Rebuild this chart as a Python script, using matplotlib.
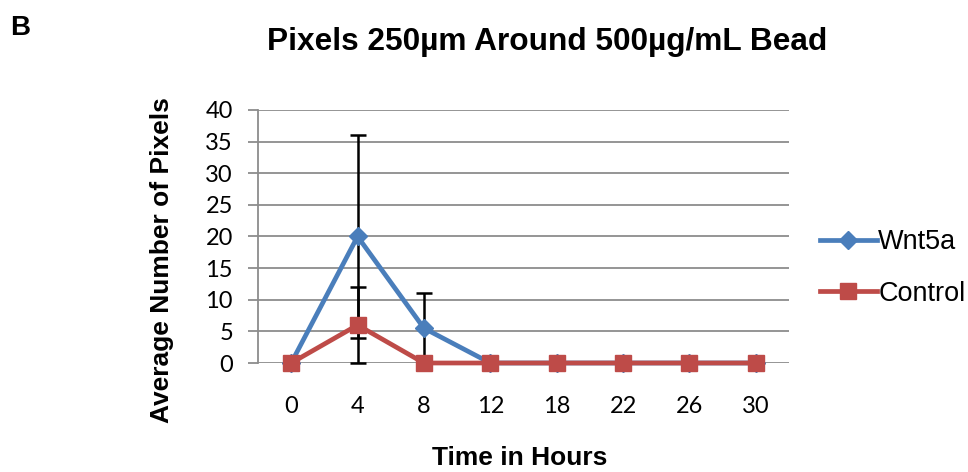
import numpy as np
import matplotlib.pyplot as plt

# ------------------- Data -------------------
hours = ['0', '4', '8', '12', '18', '22', '26', '30']
wnt5a = [0, 20, 5.5, 0, 0, 0, 0, 0]
wnt5a_err = [0, 16, 5.5, 0, 0, 0, 0, 0]
control = [0, 6, 0, 0, 0, 0, 0, 0]
control_err = [0, 6, 0, 0, 0, 0, 0, 0]

blue = '#4a7ebb'
red = '#be4b48'
tick_font = 'Lato'
arial = 'Liberation Sans'

# ------------------- Figure -------------------
W, H = 968, 472
fig = plt.figure(figsize=(W / 100, H / 100), dpi=100)
ax = fig.add_axes([258 / W, 1 - 363 / H, 531 / W, 253 / H])

x = np.arange(len(hours))

# error bars under the lines
for vals, errs in [(wnt5a, wnt5a_err), (control, control_err)]:
    eb = ax.errorbar(x, vals, yerr=errs, fmt='none', ecolor='black', elinewidth=1.8,
                     capsize=5.5, capthick=1.8, zorder=2)
    for art in eb.lines[1] + eb.lines[2]:
        art.set_clip_on(False)
ax.plot(x, wnt5a, color=blue, lw=3.4, marker='D', ms=9, label='Wnt5a', zorder=3, clip_on=False)
ax.plot(x, control, color=red, lw=3.4, marker='s', ms=11, label='Control', zorder=4, clip_on=False)

ax.set_xlim(-0.5, len(hours) - 0.5)
ax.set_ylim(0, 40)
ax.set_yticks(np.arange(0, 41, 5))
ax.set_xticks(x)
ax.set_xticklabels(hours)
ax.yaxis.grid(True, color='#8c8c8c', lw=1.3)
ax.set_axisbelow(True)
ax.patch.set_alpha(0)

for s in ['top', 'right', 'bottom']:
    ax.spines[s].set_visible(False)
ax.spines['left'].set_color('#8c8c8c')
ax.spines['left'].set_linewidth(1.3)
ax.tick_params(axis='y', length=7, width=1.3, color='#8c8c8c', labelsize=17, pad=11)
ax.tick_params(axis='x', length=0, labelsize=17, pad=24)
for lbl in ax.get_xticklabels() + ax.get_yticklabels():
    lbl.set_family(tick_font)

# axis titles and figure texts
fig.text(520 / W, 1 - 458 / H, 'Time in Hours', ha='center', va='center',
         fontsize=19, fontweight='bold', family=arial)
fig.text(162 / W, 1 - 260 / H, 'Average Number of Pixels', ha='center', va='center',
         rotation=90, fontsize=19, fontweight='bold', family=arial)
fig.text(547.5 / W, 1 - 50 / H, 'Pixels 250µm Around 500µg/mL Bead', ha='center', va='baseline',
         fontsize=22.8, fontweight='bold', family=arial)
fig.text(10 / W, 1 - 35 / H, 'B', ha='left', va='baseline', fontsize=20, fontweight='bold', family=arial)

leg = fig.legend(*ax.get_legend_handles_labels(), loc='center left',
                 bbox_to_anchor=(820 / W, 1 - 268 / H), frameon=False, borderpad=0, borderaxespad=0,
                 prop={'family': arial, 'size': 19.5}, handlelength=2.1, labelspacing=0.95,
                 handletextpad=0.05)

fig.savefig('out.png', dpi=100)
